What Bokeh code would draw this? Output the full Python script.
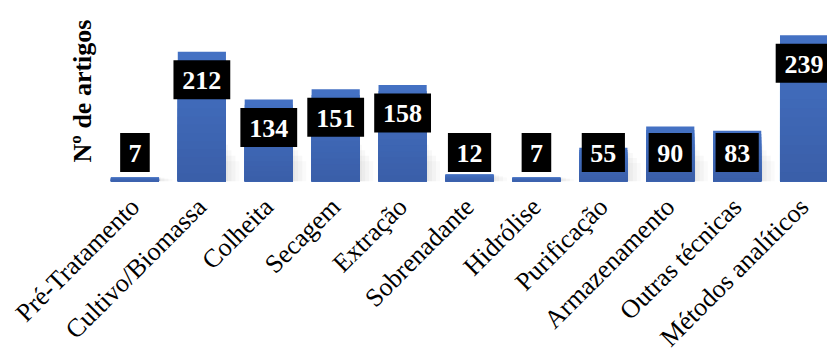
import numpy as np
from bokeh.plotting import figure
from bokeh.models import Range1d, FixedTicker, Title, ColumnDataSource
from bokeh.embed import file_html
from bokeh.resources import INLINE
from bokeh.core.properties import value

categories = ["Pré-Tratamento", "Cultivo/Biomassa", "Colheita", "Secagem", "Extração",
              "Sobrenadante", "Hidrólise", "Purificação", "Armazenamento",
              "Outras técnicas", "Métodos analíticos"]
counts = [7, 212, 134, 151, 158, 12, 7, 55, 90, 83, 239]

FONT = "Liberation Serif"
Y_MAX = 296
FRAME_H = 181
px_per_unit = FRAME_H / Y_MAX

xs = np.arange(len(categories), dtype=float)
vals = np.array(counts, dtype=float)
bar_w = 0.72

p = figure(width=827, height=353, frame_width=726, frame_height=FRAME_H,
           x_range=Range1d(-0.5, 10.35), y_range=Range1d(0, Y_MAX),
           output_backend="svg", toolbar_location=None,
           min_border_left=101, min_border_right=0, min_border_top=0, min_border_bottom=0)
p.outline_line_color = None
p.xgrid.visible = False
p.ygrid.visible = False
p.yaxis.visible = False
p.background_fill_color = "white"
p.border_fill_color = "white"

# soft shadow
for k, (dx, a) in enumerate([(0.03, 0.05), (0.08, 0.05), (0.14, 0.05), (0.2, 0.04)]):
    p.quad(left=xs - bar_w / 2 + dx, right=xs + bar_w / 2 + dx,
           bottom=np.zeros_like(vals), top=np.minimum(vals, 60) * (1 - 0.15 * k),
           fill_color="#7f7f7f", fill_alpha=a, line_color=None)

# gradient bars (tallest drawn first, shorter darker ones over it -> no seams)
top_c = np.array([0x44, 0x72, 0xC4])
bot_c = np.array([0x3A, 0x5E, 0xA8])
N = 16
for k in range(N - 1, -1, -1):
    t = (k + 0.5) / N
    c = bot_c + (top_c - bot_c) * t
    col = "#%02x%02x%02x" % tuple(int(round(v)) for v in c)
    p.quad(left=xs - bar_w / 2, right=xs + bar_w / 2, bottom=np.zeros_like(vals),
           top=vals * (k + 1) / N, fill_color=col, line_color=None)

# data labels
label_y = np.maximum(vals - 28 / px_per_unit, 29 / px_per_unit)
txt = [str(c) for c in counts]
box_w = [16 + 13.6 * len(s) for s in txt]
src = ColumnDataSource(dict(x=xs, y=label_y, t=txt, w=box_w))
p.rect(x="x", y="y", width="w", height=39, width_units="screen", height_units="screen",
       source=src, fill_color="black", line_color=None)
p.text(x="x", y="y", text="t", source=src, text_align="center", text_baseline="middle",
       text_color="white", text_font=value(FONT), text_font_size="26px",
       text_font_style="bold", y_offset=1)

# x axis
ax = p.xaxis[0]
ax.ticker = FixedTicker(ticks=list(range(len(categories))))
ax.major_label_overrides = {i: c for i, c in enumerate(categories)}
ax.major_label_orientation = np.pi / 4
ax.axis_line_color = None
ax.major_tick_line_color = None
ax.minor_tick_line_color = None
ax.major_label_text_font = FONT
ax.major_label_text_font_size = "26px"
ax.major_label_text_color = "black"
ax.major_label_standoff = 15

p.add_layout(Title(text="Nº de artigos", text_font=FONT, text_font_size="26px",
                   text_font_style="bold", align="center", text_color="black"), "left")

open("out.html", "w").write(file_html(p, INLINE))
